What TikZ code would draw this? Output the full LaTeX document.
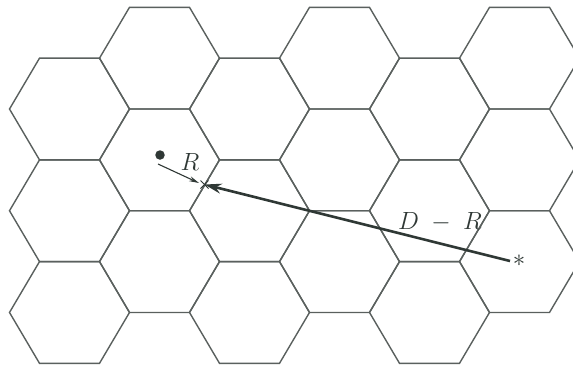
\documentclass[tikz,border=0pt]{standalone}
\usetikzlibrary{arrows.meta}
\definecolor{hexink}{HTML}{5A605E}
\definecolor{arrink}{HTML}{2F3835}
\begin{document}
\begin{tikzpicture}[x=1pt,y=-1pt,
  hexline/.style={draw=hexink,line width=1.4pt,line join=miter},
  thinarrow/.style={draw=arrink,line width=1.1pt,-{Stealth[length=10pt,width=5pt]}},
  thickarrow/.style={draw=arrink,line width=2.6pt,-{Stealth[length=17pt,width=10pt]}},
  dotnode/.style={circle,fill=arrink,inner sep=0pt,minimum size=9.5pt},
  lbl/.style={text=arrink,inner sep=0pt,font=\fontsize{24}{28}\selectfont}]
\useasboundingbox (0,0) rectangle (573,365);
\fill[white] (0,0) rectangle (573,365);
\begin{scope}
\clip (0,0) rectangle (573,365);
\foreach \cx/\cy in {69.5/109.02,69.5/210.74,69.5/312.46,
                     159.5/58.16,159.5/159.88,159.5/261.6,
                     249.5/109.02,249.5/210.74,249.5/312.46,
                     339.5/58.16,339.5/159.88,339.5/261.6,
                     429.5/109.02,429.5/210.74,429.5/312.46,
                     519.5/58.16,519.5/159.88,519.5/261.6}{
  \draw[hexline] ({\cx-60},\cy) -- ({\cx-30},{\cy-50.86}) -- ({\cx+30},{\cy-50.86})
     -- ({\cx+60},\cy) -- ({\cx+30},{\cy+50.86}) -- ({\cx-30},{\cy+50.86}) -- cycle;
}
\end{scope}
% points
\node[dotnode] (bs) at (160,155) {};
\coordinate (edge) at (204.5,184.5);
\coordinate (rs) at (158,164);
\coordinate (re) at (199,183);
\coordinate (ms) at (510,261);
\node[lbl] (star) at (519,260.5) {$*$};
% cross mark on the cell border
\draw[arrink,line width=1pt] ([shift={(-4,-4)}]edge) -- ([shift={(4,4)}]edge);
\draw[arrink,line width=1pt] ([shift={(-4,4)}]edge) -- ([shift={(4,-4)}]edge);
% arrows
\draw[thinarrow] (rs) -- (re);
\draw[thickarrow] (ms) -- (edge);
% labels
\node[lbl] (lr) at (190,162) {$R$};
\node[lbl] (ldr) at (440,222) {$D\;-\;R$};
\end{tikzpicture}
\end{document}
